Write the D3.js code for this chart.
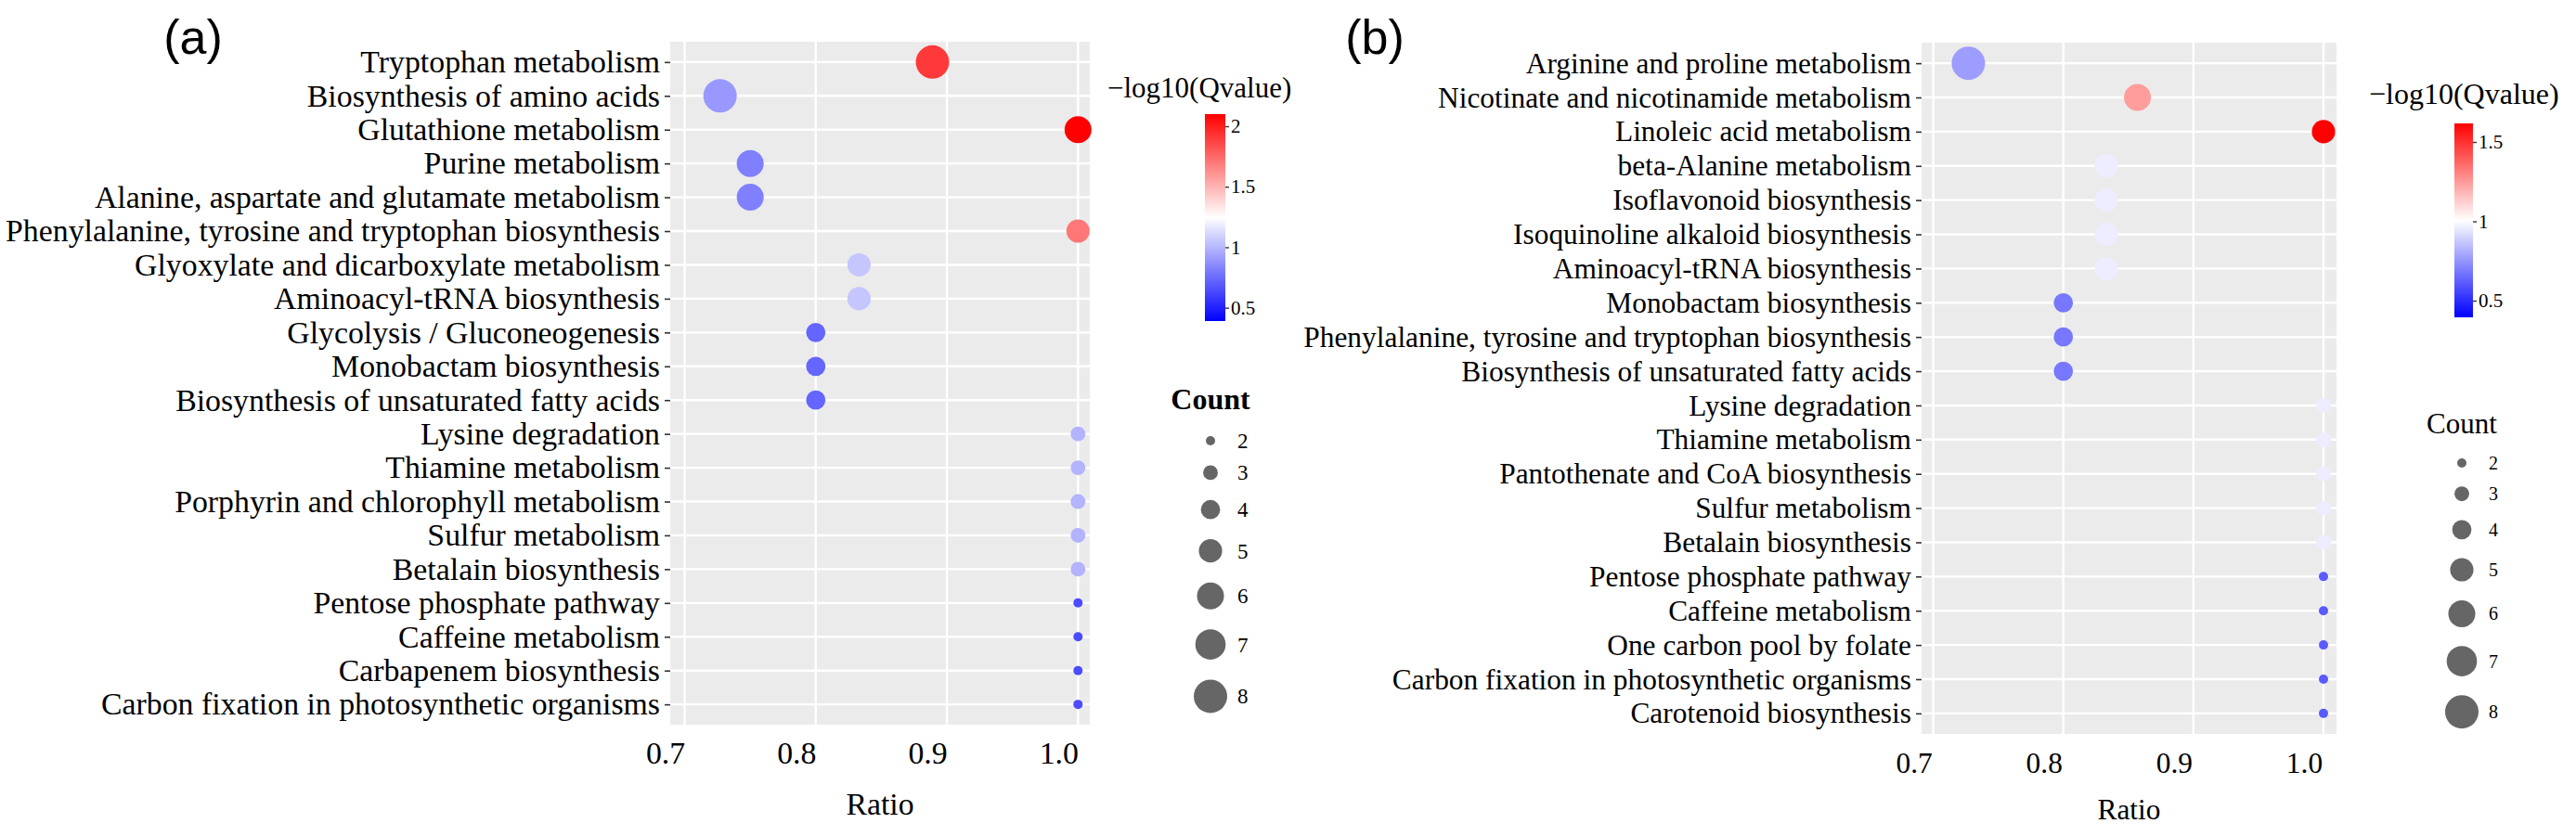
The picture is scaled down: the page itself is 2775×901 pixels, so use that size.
<!DOCTYPE html>
<html>
<head>
<meta charset="utf-8">
<script src="https://cdnjs.cloudflare.com/ajax/libs/d3/7.8.5/d3.min.js"></script>
<style>
  body { margin: 0; background: #fff; }
  text { font-family: "Liberation Serif", "Times New Roman", serif; fill: #000; }
</style>
</head>
<body>
<div id="chart"></div>
<script>
// ---- data, panel (a) ----
var pathwaysA = ["Tryptophan metabolism", "Biosynthesis of amino acids", "Glutathione metabolism",
  "Purine metabolism", "Alanine, aspartate and glutamate metabolism",
  "Phenylalanine, tyrosine and tryptophan biosynthesis", "Glyoxylate and dicarboxylate metabolism",
  "Aminoacyl-tRNA biosynthesis", "Glycolysis / Gluconeogenesis", "Monobactam biosynthesis",
  "Biosynthesis of unsaturated fatty acids", "Lysine degradation", "Thiamine metabolism",
  "Porphyrin and chlorophyll metabolism", "Sulfur metabolism", "Betalain biosynthesis",
  "Pentose phosphate pathway", "Caffeine metabolism", "Carbapenem biosynthesis",
  "Carbon fixation in photosynthetic organisms"];
var ratioA = [0.889, 0.727, 1.0, 0.75, 0.75, 1.0, 0.833, 0.833, 0.8, 0.8, 0.8,
  1.0, 1.0, 1.0, 1.0, 1.0, 1.0, 1.0, 1.0, 1.0];
var countA = [8, 8, 6, 6, 6, 5, 5, 5, 4, 4, 4, 3, 3, 3, 3, 3, 2, 2, 2, 2];
var qvalA = [1.91, 0.90, 2.10, 0.82, 0.82, 1.70, 1.05, 1.05, 0.73, 0.73, 0.73,
  0.99, 0.99, 0.99, 0.99, 0.99, 0.64, 0.64, 0.64, 0.64];
var qRangeA = [0.39, 2.10];
var qTicksA = [0.5, 1, 1.5, 2];

// ---- data, panel (b) ----
var pathwaysB = ["Arginine and proline metabolism", "Nicotinate and nicotinamide metabolism",
  "Linoleic acid metabolism", "beta-Alanine metabolism", "Isoflavonoid biosynthesis",
  "Isoquinoline alkaloid biosynthesis", "Aminoacyl-tRNA biosynthesis", "Monobactam biosynthesis",
  "Phenylalanine, tyrosine and tryptophan biosynthesis", "Biosynthesis of unsaturated fatty acids",
  "Lysine degradation", "Thiamine metabolism", "Pantothenate and CoA biosynthesis",
  "Sulfur metabolism", "Betalain biosynthesis", "Pentose phosphate pathway",
  "Caffeine metabolism", "One carbon pool by folate",
  "Carbon fixation in photosynthetic organisms", "Carotenoid biosynthesis"];
var ratioB = [0.727, 0.857, 1.0, 0.833, 0.833, 0.833, 0.833, 0.8, 0.8, 0.8,
  1.0, 1.0, 1.0, 1.0, 1.0, 1.0, 1.0, 1.0, 1.0, 1.0];
var countB = [8, 6, 5, 5, 5, 5, 5, 4, 4, 4, 3, 3, 3, 3, 3, 2, 2, 2, 2, 2];
var qvalB = [0.77, 1.24, 1.617, 0.963, 0.963, 0.963, 0.963, 0.68, 0.68, 0.68,
  0.963, 0.963, 0.963, 0.963, 0.963, 0.61, 0.61, 0.61, 0.61, 0.61];
var qRangeB = [0.395, 1.617];
var qTicksB = [0.5, 1, 1.5];

var ratioTicks = [0.7, 0.8, 0.9, 1.0];
var countLevels = [2, 3, 4, 5, 6, 7, 8];

var svg = d3.select("#chart").append("svg")
  .attr("width", 2775)
  .attr("height", 901);

var sizeScale = d3.scalePow().exponent(0.5).domain([2, 8]).range([5, 18]);
var serif = "'Liberation Serif', 'Times New Roman', serif";


DotPlot = function(_svg, _cfg) {
  this.svg = _svg;
  this.cfg = _cfg;
  this.initVis();
}

DotPlot.prototype.initVis = function() {
  var vis = this;
  var c = vis.cfg;

  vis.x = d3.scaleLinear().domain(c.xDomain).range([c.left, c.right]);
  vis.y = d3.scalePoint().domain(c.pathways).range([c.top, c.bottom]).padding(0.6);
  vis.color = d3.scaleLinear()
    .domain([c.qRange[0], d3.mean(c.qRange), c.qRange[1]])
    .range(["#0000ff", "#ffffff", "#ff0000"]);

  vis.g = vis.svg.append("g");

  vis.g.append("text")
    .attr("x", c.tagX).attr("y", 58)
    .attr("text-anchor", "middle")
    .style("font-family", "'Liberation Sans', Arial, sans-serif")
    .style("font-size", "52px")
    .text(c.tag);

  // panel + grid
  vis.g.append("rect")
    .attr("x", c.left).attr("y", c.top)
    .attr("width", c.right - c.left).attr("height", c.bottom - c.top)
    .attr("fill", "#ebebeb");

  vis.g.selectAll(".vgrid").data(ratioTicks).enter().append("line")
    .attr("class", "vgrid")
    .attr("x1", d => vis.x(d)).attr("x2", d => vis.x(d))
    .attr("y1", c.top).attr("y2", c.bottom)
    .attr("stroke", "#fff").attr("stroke-width", 2.4);

  vis.g.selectAll(".hgrid").data(c.pathways).enter().append("line")
    .attr("class", "hgrid")
    .attr("x1", c.left).attr("x2", c.right)
    .attr("y1", d => vis.y(d)).attr("y2", d => vis.y(d))
    .attr("stroke", "#fff").attr("stroke-width", 2.4);

  // axes
  vis.yAxis = vis.g.append("g")
    .attr("transform", "translate(" + c.left + ",0)")
    .call(d3.axisLeft(vis.y).tickSize(6).tickPadding(5));
  vis.yAxis.select(".domain").remove();
  vis.yAxis.selectAll("line").attr("stroke", "#333").attr("stroke-width", 1.6);
  vis.yAxis.selectAll("text")
    .style("font-family", serif)
    .style("font-size", c.fontSize + "px").attr("fill", "#000");

  vis.xAxis = vis.g.append("g")
    .attr("transform", "translate(0," + c.bottom + ")")
    .call(d3.axisBottom(vis.x).tickValues(ratioTicks).tickFormat(d3.format(".1f")).tickSize(0));
  vis.xAxis.select(".domain").remove();
  // tick labels sit a little left of their gridlines in the original
  vis.xAxis.selectAll("text")
    .attr("y", c.tickBase - c.bottom).attr("dy", null).attr("dx", -21)
    .style("font-family", serif)
    .style("font-size", c.fontSize + "px").attr("fill", "#000");

  vis.g.append("text")
    .attr("x", (c.left + c.right) / 2).attr("y", c.ratioBase)
    .attr("text-anchor", "middle")
    .style("font-size", c.fontSize + "px")
    .text("Ratio");

  vis.drawLegends();
  vis.updateVis();
}

DotPlot.prototype.drawLegends = function() {
  var vis = this;
  var c = vis.cfg;

  vis.g.append("text")
    .attr("x", c.legX).attr("y", c.legTitleY)
    .style("font-size", c.legTitleSize + "px")
    .text("\u2212log10(Qvalue)");

  var gradId = "grad-" + c.tag.replace(/\W/g, "");
  var grad = vis.svg.append("defs").append("linearGradient")
    .attr("id", gradId)
    .attr("x1", 0).attr("y1", 1).attr("x2", 0).attr("y2", 0);
  d3.range(0, 1.0001, 0.05).forEach(function(t) {
    grad.append("stop")
      .attr("offset", t)
      .attr("stop-color", vis.color(c.qRange[0] + t * (c.qRange[1] - c.qRange[0])));
  });

  vis.g.append("rect")
    .attr("x", c.barX).attr("y", c.barTop)
    .attr("width", c.barW).attr("height", c.barBottom - c.barTop)
    .attr("fill", "url(#" + gradId + ")");

  var qScale = d3.scaleLinear().domain(c.qRange).range([c.barBottom, c.barTop]);
  var qAxis = vis.g.append("g")
    .attr("transform", "translate(" + (c.barX + c.barW) + ",0)")
    .call(d3.axisRight(qScale).tickValues(c.qTicks).tickFormat(d3.format("~g")).tickSize(4).tickPadding(2));
  qAxis.select(".domain").remove();
  qAxis.selectAll("line").attr("stroke", "#333").attr("stroke-width", 1.4);
  qAxis.selectAll("text")
    .style("font-family", serif)
    .style("font-size", "21px").attr("fill", "#000");

  // size legend
  vis.g.append("text")
    .attr("x", c.countX).attr("y", c.countTitleY)
    .attr("text-anchor", "middle")
    .style("font-size", c.countTitleSize + "px")
    .style("font-weight", c.countBold ? "bold" : "normal")
    .text("Count");

  var keys = [];
  var yy = c.countFirstY;
  countLevels.forEach(function(n, i) {
    if (i > 0) yy += sizeScale(countLevels[i - 1]) + sizeScale(n) + c.countGap;
    keys.push({ n: n, y: yy });
  });

  vis.g.selectAll(".key").data(keys).enter().append("circle")
    .attr("class", "key")
    .attr("cx", c.countX).attr("cy", d => d.y)
    .attr("r", d => sizeScale(d.n))
    .attr("fill", "#666");

  vis.g.selectAll(".keylab").data(keys).enter().append("text")
    .attr("class", "keylab")
    .attr("x", c.countLabX).attr("y", d => d.y).attr("dy", "0.35em")
    .style("font-size", c.countLabSize + "px")
    .text(d => d.n);
}

DotPlot.prototype.updateVis = function() {
  var vis = this;
  var c = vis.cfg;

  vis.data = c.pathways.map(function(p, i) {
    return { pathway: p, ratio: c.ratio[i], count: c.count[i], q: c.qval[i] };
  });

  vis.g.selectAll(".dot").data(vis.data).enter().append("circle")
    .attr("class", "dot")
    .attr("cx", d => vis.x(d.ratio))
    .attr("cy", d => vis.y(d.pathway))
    .attr("r", d => sizeScale(d.count))
    .attr("fill", d => vis.color(d.q));
}


new DotPlot(svg, {
  tag: "(a)", tagX: 208,
  pathways: pathwaysA, ratio: ratioA, count: countA, qval: qvalA,
  qRange: qRangeA, qTicks: qTicksA,
  left: 722, right: 1174, top: 45, bottom: 781, xDomain: [0.689, 1.009],
  fontSize: 33.8, tickBase: 823, ratioBase: 878,
  legX: 1193, legTitleY: 105, legTitleSize: 31,
  barX: 1298, barW: 22, barTop: 123, barBottom: 346,
  countX: 1304, countTitleY: 441, countBold: true, countTitleSize: 32,
  countFirstY: 475, countGap: 21.5, countLabX: 1333, countLabSize: 23
});

new DotPlot(svg, {
  tag: "(b)", tagX: 1481,
  pathways: pathwaysB, ratio: ratioB, count: countB, qval: qvalB,
  qRange: qRangeB, qTicks: qTicksB,
  left: 2070, right: 2517, top: 46, bottom: 791, xDomain: [0.691, 1.010],
  fontSize: 31.4, tickBase: 833, ratioBase: 883,
  legX: 2552, legTitleY: 112, legTitleSize: 32,
  barX: 2644, barW: 20, barTop: 133, barBottom: 342,
  countX: 2652, countTitleY: 467, countBold: false, countTitleSize: 31,
  countFirstY: 499, countGap: 20.3, countLabX: 2681, countLabSize: 20
});
</script>
</body>
</html>
